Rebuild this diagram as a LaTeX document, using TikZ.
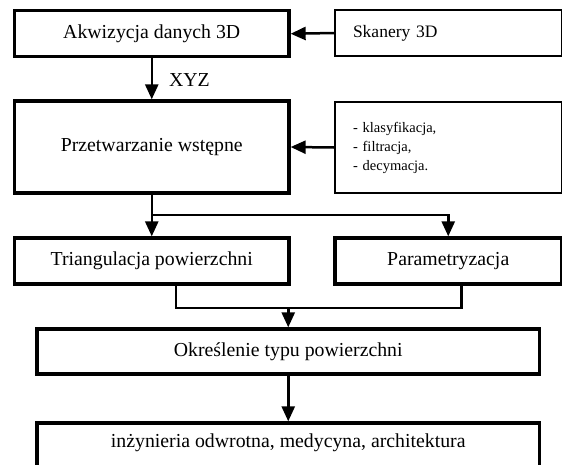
\documentclass[tikz,border=0pt]{standalone}
\usepackage{fontspec}
\setmainfont{Liberation Serif}
\usetikzlibrary{positioning,arrows.meta,calc}

\begin{document}
\begin{tikzpicture}[
  x=1pt, y=-1pt,
  box/.style={
    draw=black, line width=3.3pt,
    minimum width=274.5pt, minimum height=46pt,
    font=\fontsize{19.8}{23}\selectfont, align=center, inner sep=0pt
  },
  side/.style={
    draw=black, line width=1.3pt,
    text width=190.5pt, inner xsep=18pt, inner ysep=0pt,
    font=\fontsize{14.5}{19}\selectfont, align=left
  },
  lbl/.style={font=\fontsize{19.8}{23}\selectfont, inner sep=0pt},
  arr/.style={-{Triangle[length=15pt,width=13pt]},line width=2.5pt,black},
  ln/.style={line width=2.5pt,black}
]
\useasboundingbox (0,0) rectangle (562,464);

\node[box] (akw) at (151.75,33.75)
  {Akwizycja danych 3D};
\node[side, minimum height=46pt, font=\fontsize{17.5}{21}\selectfont] (skan) at (448.25,33)
  {Skanery 3D};
\node[box, minimum height=92pt] (prze) at (151.75,147)
  {Przetwarzanie wstępne};
\node[side, minimum height=91pt] (filt) at (448.25,147.5)
  {- klasyfikacja,\\- filtracja,\\- decymacja.};
\node[box] (tri) at (151.75,261)
  {Triangulacja powierzchni};
\node[box, minimum width=226.5pt] (par) at (448.25,261)
  {Parametryzacja};
\node[box, minimum width=502.5pt, minimum height=45pt] (okr) at (288.25,351.5)
  {Określenie typu powierzchni};
\node[box, minimum width=502.5pt, minimum height=46pt, text depth=10pt] (zast) at (288.25,446)
  {inżynieria odwrotna, medycyna, architektura};

\draw[arr] (skan.west) -- (akw.east);
\draw[arr] (akw.south) -- (prze.north);
\node[lbl] (xyz) at (189.5,80) {XYZ};
\draw[arr] (filt.west) -- (prze.east);

\coordinate (split) at (151.75,215);
\draw[ln] (prze.south) -- (split);
\draw[arr] (split) -- (tri.north);
\draw[arr] (split) -| (par.north);

\coordinate (join) at (288.25,308);
\draw[ln] ([xshift=24pt]tri.south) |- (join)
  -| ([xshift=13pt]par.south);
\draw[arr] (join) -- (okr.north);
\draw[arr] (okr.south) -- (zast.north);

\end{tikzpicture}
\end{document}
